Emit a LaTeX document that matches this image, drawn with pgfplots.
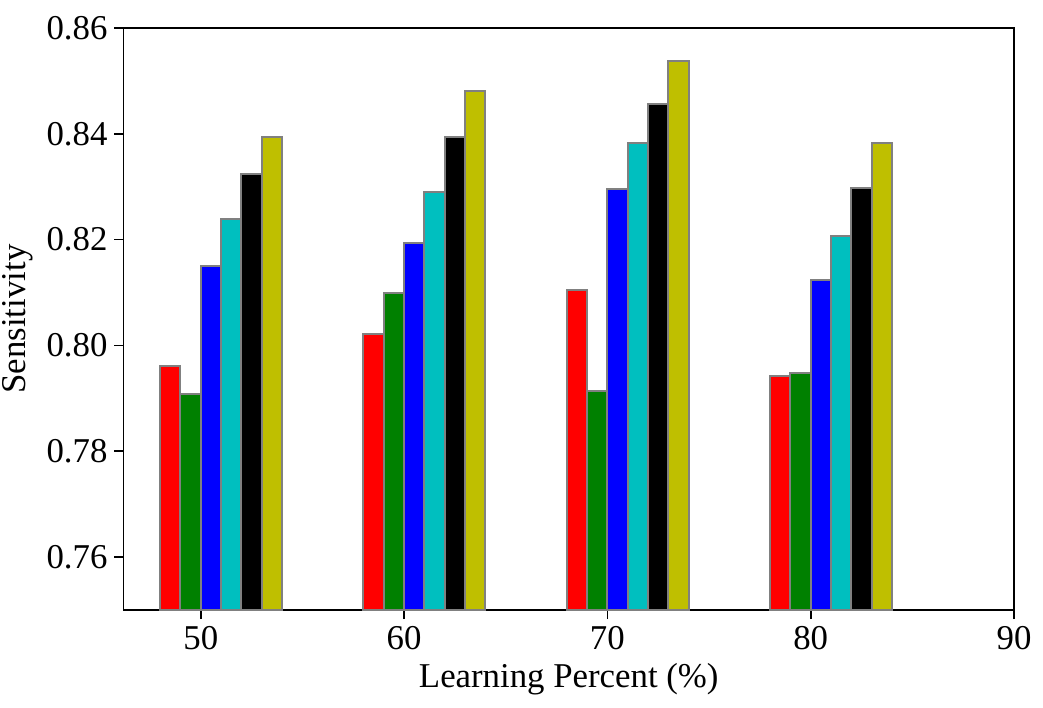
\documentclass[border=0pt]{standalone}
\usepackage{fontspec}
\setmainfont{Liberation Serif}
\usepackage{pgfplots}
\pgfplotsset{compat=1.18}
\definecolor{mred}{HTML}{FF0000}
\definecolor{mgreen}{HTML}{008000}
\definecolor{mblue}{HTML}{0000FF}
\definecolor{mcyan}{HTML}{00BFBF}
\definecolor{mblack}{HTML}{000000}
\definecolor{myellow}{HTML}{BFBF00}
\definecolor{medge}{HTML}{808080}
\begin{document}
\begin{tikzpicture}
\begin{axis}[
  scale only axis,
  width=445.25pt, height=291pt,
  xmin=46.2, xmax=90, ymin=0.75, ymax=0.86,
  xtick={50,60,70,80,90},
  ytick={0.76,0.78,0.80,0.82,0.84,0.86},
  yticklabel style={/pgf/number format/.cd, fixed, fixed zerofill, precision=2},
  /pgf/number format/assume math mode=true,
  tick align=outside,
  major tick length=4.5pt,
  tick style={black, line width=0.8pt},
  axis line style={black, line width=0.8pt},
  xtick pos=bottom, ytick pos=left,
  ticklabel style={font=\fontsize{17.4}{20}\selectfont},
  label style={font=\fontsize{17.4}{20}\selectfont},
  xlabel={Learning Percent (\%)},
  ylabel={Sensitivity},
  ybar, bar width=1, bar shift=0pt,
  every axis plot/.append style={draw=medge, line width=1pt},
  clip=true,
]
\addplot[fill=mred] coordinates {(48.5,0.7962) (58.5,0.8022) (68.5,0.8105) (78.5,0.7942)};
\addplot[fill=mgreen] coordinates {(49.5,0.7909) (59.5,0.8099) (69.5,0.7914) (79.5,0.7947)};
\addplot[fill=mblue] coordinates {(50.5,0.8151) (60.5,0.8194) (70.5,0.8295) (80.5,0.8124)};
\addplot[fill=mcyan] coordinates {(51.5,0.8239) (61.5,0.8290) (71.5,0.8383) (81.5,0.8206)};
\addplot[fill=mblack] coordinates {(52.5,0.8324) (62.5,0.8394) (72.5,0.8456) (82.5,0.8297)};
\addplot[fill=myellow] coordinates {(53.5,0.8394) (63.5,0.8481) (73.5,0.8537) (83.5,0.8383)};
\coordinate (sw) at (rel axis cs:0,0);
\coordinate (ne) at (rel axis cs:1,1);
\end{axis}
\pgfresetboundingbox
\path ([shift={(-61.75pt,-48.5pt)}]sw) rectangle ([shift={(14.5pt,14pt)}]ne);
\end{tikzpicture}
\end{document}
